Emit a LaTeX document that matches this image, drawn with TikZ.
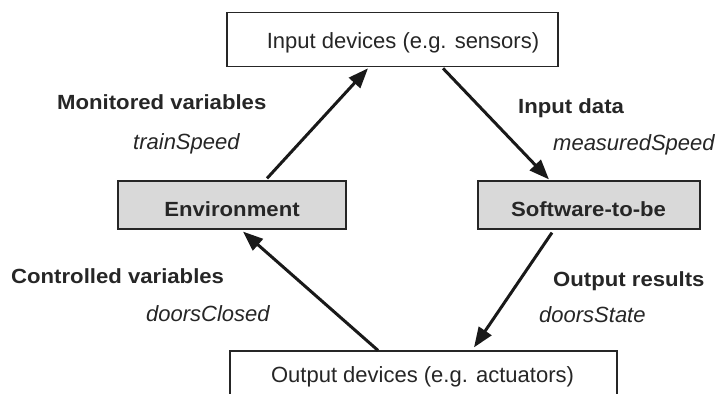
\documentclass[tikz,border=0pt]{standalone}
\usepackage{fontspec}
\setmainfont{Liberation Sans}
\newfontfamily\widebf[FakeStretch=1.08]{Liberation Sans Bold}
\usetikzlibrary{arrows.meta,calc}
\begin{document}
\begin{tikzpicture}[x=1pt,y=-1pt,
  devbox/.style={draw=black!85,line width=1.2pt,fill=white,inner sep=0pt},
  sysbox/.style={draw=black!85,line width=1.2pt,fill=gray!30,minimum width=228pt,minimum height=48pt,inner sep=0pt},
  devtxt/.style={font=\fontsize{22}{26}\selectfont,inner sep=0pt,anchor=base,text=black!85},
  systxt/.style={font=\widebf\fontsize{20.5}{24}\selectfont,inner sep=0pt,anchor=base,text=black!85},
  flow/.style={line width=3pt,draw=black!90,-{Triangle[length=20pt,width=15pt]}},
  lbl/.style={font=\widebf\fontsize{20.5}{24}\selectfont,inner sep=0pt,anchor=base west,text=black!85},
  var/.style={font=\itshape\fontsize{22}{26}\selectfont,inner sep=0pt,anchor=base west,text=black!85}]
\useasboundingbox (0,0) rectangle (716,394);
\clip (0,0) rectangle (716,394);
% boxes
\node[devbox,minimum width=331pt,minimum height=54pt] (in) at (392.5,39.7) {};
\node[devtxt] (intxt) at (403,48.3) {Input devices (e.g. sensors)};
\node[devbox,minimum width=387pt,minimum height=60pt] (out) at (423.5,381) {};
\node[devtxt] (outtxt) at (422.5,382) {Output devices (e.g. actuators)};
\node[sysbox] (env) at (232,205) {};
\node[systxt] (envtxt) at (232,216) {Environment};
\node[sysbox,minimum width=222pt] (sw) at (589,205) {};
\node[systxt] (swtxt) at (588.5,216) {Software-to-be};
% connectors
\draw[flow] ($(env.north)+(35,-2)$) -- ($(in.south)+(-24.5,1)$);
\draw[flow] ($(in.south)+(50.5,1)$) -- ($(sw.north)+(-40,-1)$);
\draw[flow] ($(sw.south)+(-37,3)$) -- ($(out.north)+(50.5,-3)$);
\draw[flow] ($(out.north)+(-45.5,0)$) -- ($(env.south)+(11,2)$);
% labels
\node[lbl] (mv) at (57,109) {Monitored variables};
\node[var] (ts) at (133,149) {trainSpeed};
\node[lbl] (id) at (518,113) {Input data};
\node[var] (ms) at (553,150) {measuredSpeed};
\node[lbl] (cv) at (11,283) {Controlled variables};
\node[var] (dc) at (146,321) {doorsClosed};
\node[lbl] (orr) at (553,286) {Output results};
\node[var] (ds) at (539,322) {doorsState};
\end{tikzpicture}
\end{document}
